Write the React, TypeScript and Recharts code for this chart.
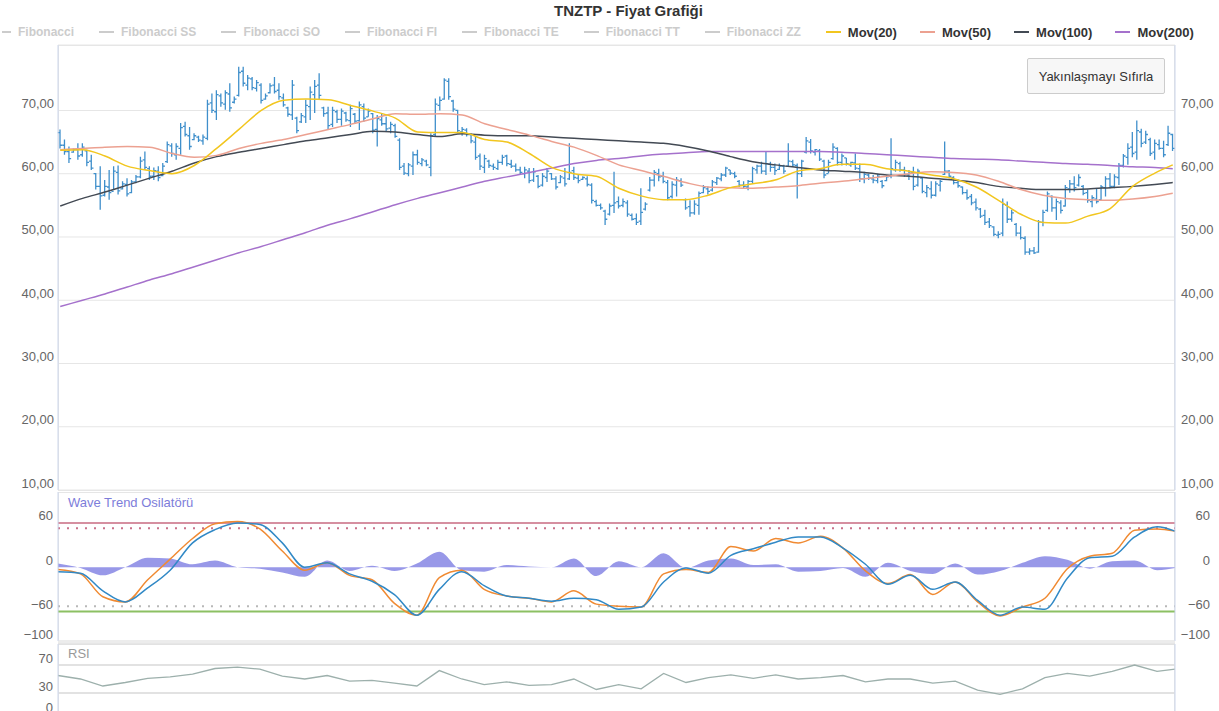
import React from "react";
import {
  ComposedChart,
  Bar,
  Line,
  Area,
  XAxis,
  YAxis,
  CartesianGrid,
  ReferenceLine,
} from "recharts";

// daily bars
const OPEN = [
  66.5, 64.5, 63.5, 63.4, 63.8, 63.0, 63.6, 62.0, 60.0, 58.0,
  56.6, 57.9, 57.2, 60.2, 57.6, 58.3, 57.0, 58.7, 59.5, 62.2,
  60.8, 59.6, 60.4, 59.7, 61.9, 64.4, 63.0, 64.0, 67.5, 66.0,
  65.4, 65.8, 65.2, 65.6, 71.2, 69.8, 72.3, 71.0, 72.6, 71.3,
  72.4, 76.2, 74.0, 75.0, 73.5, 74.0, 71.8, 72.8, 74.0, 73.2,
  72.0, 70.4, 69.3, 68.8, 68.2, 69.0, 70.6, 72.5, 74.0, 70.4,
  69.6, 67.8, 69.8, 68.6, 69.6, 68.4, 69.4, 68.4, 70.6, 69.0,
  69.5, 67.0, 68.5, 67.9, 67.2, 67.6, 65.3, 61.2, 60.0, 61.2,
  63.0, 61.6, 62.0, 61.0, 66.2, 70.8, 71.8, 74.6, 71.5, 70.0,
  66.6, 66.9, 66.2, 65.0, 62.8, 61.0, 62.0, 61.2, 60.8, 61.8,
  62.8, 61.5, 61.2, 60.6, 60.0, 60.4, 59.0, 59.6, 58.2, 59.4,
  60.0, 59.2, 58.6, 59.3, 59.2, 60.5, 59.3, 59.1, 59.2, 58.2,
  55.6, 55.0, 54.1, 53.6, 55.0, 55.6, 55.0, 55.4, 53.4, 52.9,
  52.5, 54.4, 57.4, 59.0, 60.0, 59.6, 58.6, 56.4, 58.2, 58.9,
  55.9, 54.8, 53.8, 55.0, 57.0, 57.6, 57.4, 58.6, 59.2, 59.8,
  60.6, 60.0, 58.8, 58.2, 57.9, 58.8, 60.6, 61.2, 60.4, 61.5,
  61.0, 60.7, 61.2, 61.2, 61.9, 61.3, 60.0, 63.4, 65.0, 63.4,
  63.6, 62.0, 60.0, 62.4, 64.0, 61.8, 62.5, 61.4, 61.7, 60.8,
  59.2, 59.8, 59.2, 58.9, 58.8, 58.9, 59.6, 60.6, 61.6, 60.6,
  59.8, 60.2, 58.2, 59.3, 57.0, 57.6, 56.6, 58.2, 59.9, 60.4,
  59.4, 58.6, 57.9, 57.0, 56.4, 55.5, 54.4, 53.4, 52.4, 51.6,
  50.3, 50.6, 55.0, 52.8, 52.0, 50.6, 49.8, 47.6, 47.8, 47.6,
  52.3, 54.2, 56.4, 54.6, 55.4, 54.9, 57.6, 58.4, 58.2, 58.0,
  57.0, 55.6, 56.0, 55.9, 57.8, 59.2, 58.0, 59.4, 61.3, 62.6,
  64.2, 63.4, 66.6, 65.0, 65.4, 63.4, 64.6, 64.0, 64.6, 66.2,
];
const HIGH = [
  67.0, 65.4, 64.3, 64.0, 64.8, 64.8, 63.8, 63.0, 60.1, 61.2,
  59.0, 60.6, 61.2, 61.3, 58.8, 59.3, 59.0, 59.8, 62.7, 63.5,
  61.2, 61.0, 61.2, 61.7, 65.1, 64.8, 64.8, 68.0, 68.2, 67.4,
  66.4, 66.0, 66.2, 71.7, 72.7, 73.2, 72.7, 73.2, 74.3, 72.2,
  76.9, 76.9, 75.6, 75.3, 74.8, 74.3, 72.7, 74.3, 75.3, 74.3,
  72.7, 70.6, 74.8, 69.0, 69.6, 71.7, 73.8, 74.8, 75.9, 70.6,
  70.6, 70.6, 70.1, 70.3, 69.8, 70.9, 69.6, 71.4, 71.1, 70.3,
  69.6, 69.3, 69.6, 69.0, 68.2, 67.9, 65.6, 61.7, 61.7, 63.5,
  63.8, 62.5, 62.2, 66.4, 71.9, 72.2, 75.1, 75.1, 71.7, 70.1,
  67.4, 67.2, 66.4, 65.9, 63.2, 63.0, 62.2, 61.6, 62.2, 63.0,
  63.0, 62.2, 61.6, 61.1, 61.1, 60.9, 60.9, 59.8, 60.1, 60.9,
  60.1, 59.6, 59.8, 60.9, 64.8, 61.1, 59.8, 59.6, 59.6, 58.5,
  55.9, 55.3, 54.3, 55.3, 60.3, 56.4, 56.1, 55.8, 53.7, 53.7,
  57.7, 55.5, 59.5, 60.6, 60.8, 60.3, 59.0, 58.8, 59.5, 59.3,
  56.1, 55.8, 55.8, 57.2, 58.2, 58.0, 59.0, 59.5, 60.1, 61.1,
  60.6, 60.3, 59.0, 58.8, 59.0, 61.1, 61.4, 61.9, 63.5, 61.9,
  61.6, 61.6, 61.4, 64.8, 62.2, 61.6, 62.2, 65.8, 65.5, 63.9,
  63.9, 62.2, 62.2, 64.8, 64.2, 63.2, 62.5, 61.9, 63.2, 61.6,
  60.3, 60.0, 59.8, 60.0, 59.0, 59.8, 65.6, 62.2, 61.9, 61.1,
  60.6, 61.1, 60.8, 59.5, 58.2, 58.8, 58.8, 59.0, 65.1, 60.6,
  59.6, 59.1, 58.0, 57.5, 56.8, 56.1, 54.6, 54.3, 53.0, 51.7,
  50.9, 56.1, 55.6, 54.3, 52.2, 51.7, 50.1, 48.2, 48.4, 52.7,
  54.3, 57.2, 56.6, 56.1, 55.8, 58.2, 59.0, 59.6, 59.9, 58.2,
  57.5, 56.6, 57.7, 58.2, 59.6, 60.1, 59.9, 61.7, 63.1, 64.8,
  66.6, 68.4, 67.1, 66.8, 65.7, 65.4, 65.4, 65.2, 67.6, 66.3,
];
const LOW = [
  64.0, 63.0, 61.7, 63.3, 62.2, 62.7, 61.2, 60.6, 57.5, 54.3,
  56.4, 55.9, 57.5, 56.7, 57.5, 56.4, 56.9, 58.5, 59.3, 60.6,
  59.0, 59.0, 58.8, 59.6, 61.7, 62.7, 62.2, 63.0, 65.9, 63.8,
  65.3, 65.0, 64.6, 65.3, 69.6, 68.5, 70.6, 70.1, 69.8, 71.1,
  72.2, 73.8, 73.2, 73.2, 73.0, 71.1, 71.7, 72.7, 72.7, 71.7,
  70.6, 69.0, 68.5, 66.4, 68.0, 68.0, 68.5, 69.6, 71.7, 69.0,
  66.9, 67.4, 68.0, 67.6, 68.2, 67.4, 68.0, 66.9, 68.2, 69.0,
  66.4, 64.3, 67.6, 66.7, 66.4, 65.7, 60.6, 59.8, 59.6, 59.8,
  61.4, 61.2, 61.2, 59.6, 65.9, 70.0, 71.7, 71.7, 69.8, 66.4,
  66.0, 65.9, 64.8, 62.2, 60.6, 60.1, 60.9, 60.6, 60.6, 61.4,
  61.2, 60.9, 60.3, 59.8, 59.3, 58.5, 58.7, 57.7, 58.0, 58.7,
  59.0, 57.5, 58.5, 58.0, 59.0, 59.0, 58.5, 59.0, 58.0, 55.3,
  54.8, 54.3, 51.9, 53.4, 53.8, 54.5, 54.7, 53.2, 52.6, 51.9,
  51.9, 54.2, 57.2, 58.0, 58.8, 58.5, 55.8, 56.1, 56.4, 57.9,
  54.3, 53.2, 53.5, 53.5, 56.9, 56.7, 57.2, 58.2, 58.8, 59.5,
  59.8, 59.3, 57.9, 57.7, 57.4, 58.5, 60.0, 60.0, 59.8, 60.3,
  59.8, 60.6, 60.0, 61.1, 61.1, 56.1, 59.5, 63.2, 63.2, 62.9,
  62.0, 59.3, 60.1, 62.2, 61.3, 61.3, 61.3, 61.1, 60.6, 58.7,
  58.5, 59.0, 58.5, 58.5, 57.7, 58.8, 59.3, 60.3, 60.3, 59.5,
  59.0, 57.4, 58.0, 56.9, 56.3, 56.1, 56.4, 57.2, 59.8, 59.3,
  58.3, 57.8, 56.7, 55.9, 55.0, 54.2, 53.0, 51.9, 51.4, 50.1,
  49.8, 50.1, 52.2, 52.4, 50.1, 49.6, 47.2, 47.2, 47.3, 47.5,
  51.7, 54.0, 54.0, 52.7, 53.7, 54.8, 57.0, 57.2, 58.0, 56.6,
  55.4, 54.7, 55.3, 55.8, 56.4, 57.7, 57.7, 58.2, 61.0, 61.4,
  62.6, 62.2, 64.2, 64.7, 62.8, 62.2, 63.8, 62.6, 64.4, 63.6,
];
const CLOSE = [
  64.5, 63.5, 62.4, 63.8, 62.8, 64.2, 61.8, 60.9, 58.0, 56.5,
  58.0, 57.0, 60.4, 57.3, 58.4, 56.8, 58.7, 59.5, 62.0, 61.0,
  59.6, 60.5, 59.4, 61.2, 64.6, 63.2, 64.3, 67.3, 66.2, 64.3,
  66.0, 65.3, 65.8, 71.0, 70.0, 72.5, 71.2, 72.8, 70.4, 71.8,
  76.0, 74.3, 75.1, 73.6, 74.4, 71.6, 72.3, 73.9, 73.0, 72.2,
  70.9, 69.4, 74.0, 66.8, 69.2, 70.8, 72.9, 73.8, 72.4, 69.5,
  67.6, 70.0, 68.6, 69.9, 68.5, 70.3, 68.3, 70.9, 68.8, 69.9,
  66.9, 68.7, 67.9, 67.1, 67.8, 65.9, 61.0, 60.1, 61.4, 63.0,
  61.8, 62.2, 61.4, 66.0, 71.0, 71.6, 74.8, 72.2, 70.2, 66.8,
  67.0, 66.2, 65.2, 62.6, 61.2, 62.4, 61.3, 61.0, 61.8, 62.6,
  61.6, 61.2, 60.6, 60.2, 60.6, 58.9, 60.3, 58.0, 59.6, 60.4,
  59.2, 57.9, 59.5, 58.4, 60.2, 59.4, 58.9, 59.4, 58.3, 55.8,
  55.0, 54.6, 52.8, 54.9, 55.4, 54.9, 55.6, 53.6, 52.8, 52.3,
  53.9, 55.2, 59.0, 60.2, 59.5, 58.8, 56.2, 58.3, 59.0, 58.2,
  54.6, 53.8, 55.2, 56.9, 57.8, 57.2, 58.7, 59.3, 59.8, 60.9,
  60.1, 59.6, 58.2, 58.0, 58.8, 60.8, 61.2, 60.4, 61.6, 61.0,
  60.5, 61.2, 60.4, 62.0, 61.4, 60.0, 62.0, 65.2, 63.6, 63.8,
  62.3, 59.8, 61.8, 64.2, 61.8, 62.8, 61.6, 61.8, 60.9, 59.2,
  59.9, 59.3, 59.0, 59.6, 58.1, 59.5, 60.8, 61.8, 60.6, 59.9,
  60.3, 58.0, 60.4, 57.2, 57.8, 56.6, 58.4, 58.8, 60.4, 59.6,
  58.6, 58.1, 57.0, 56.2, 55.4, 54.6, 53.3, 52.3, 51.8, 50.4,
  50.4, 55.2, 52.8, 53.8, 50.6, 49.9, 47.6, 47.8, 47.5, 52.4,
  53.9, 56.8, 54.6, 55.6, 54.2, 57.8, 58.4, 57.8, 59.4, 56.9,
  55.8, 56.2, 55.6, 57.9, 59.2, 58.0, 59.5, 61.3, 62.8, 64.0,
  63.2, 66.8, 64.8, 66.2, 63.2, 64.8, 64.0, 63.0, 66.4, 64.0,
];

// indicator lines, read every 5th bar (last value = last bar)
const MOV20 = [
  63.7, 63.8, 62.8, 61.2, 60.5, 60.0, 61.3, 64.0, 67.0, 70.0,
  71.6, 71.8, 71.7, 70.8, 69.9, 68.8, 66.6, 66.5, 66.5, 65.4,
  65.0, 63.2, 61.0, 60.0, 59.6, 57.7, 56.5, 55.9, 55.9, 56.6,
  57.8, 58.4, 59.0, 60.4, 60.8, 61.5, 61.5, 60.8, 60.4, 59.8,
  59.2, 57.9, 55.8, 53.6, 52.3, 52.2, 53.3, 54.5, 58.0, 60.1,
  61.4,
];
const MOV50 = [
  63.8, 64.0, 64.2, 64.3, 64.2, 63.2, 62.6, 62.9, 64.0, 64.8,
  65.4, 66.2, 67.0, 67.8, 68.7, 69.5, 69.4, 69.5, 69.3, 67.9,
  67.0, 66.1, 65.1, 64.2, 62.9, 61.4, 60.5, 59.6, 58.6, 57.9,
  57.8, 57.7, 57.9, 58.1, 58.5, 58.8, 59.2, 59.6, 60.0, 60.3,
  60.2, 59.8, 58.8, 57.5, 56.6, 56.1, 55.9, 55.8, 56.0, 56.4,
  56.9,
];
const MOV100 = [
  54.9, 56.1, 57.1, 58.2, 59.3, 60.4, 61.7, 62.7, 63.4, 64.0,
  64.6, 65.2, 65.7, 66.2, 66.7, 66.6, 66.2, 65.9, 66.3, 66.1,
  66.0, 66.0, 65.8, 65.6, 65.4, 65.2, 65.0, 64.8, 64.3, 63.6,
  62.7, 61.9, 61.4, 61.0, 60.6, 60.4, 60.2, 59.8, 59.6, 59.3,
  59.0, 58.6, 58.0, 57.7, 57.5, 57.5, 57.6, 57.8, 58.0, 58.3,
  58.6,
];
const MOV200 = [
  39.0, 40.0, 41.0, 42.1, 43.2, 44.2, 45.3, 46.4, 47.5, 48.5,
  49.6, 50.7, 51.9, 52.9, 54.0, 55.1, 56.1, 57.0, 57.9, 58.8,
  59.5, 60.2, 60.9, 61.6, 62.1, 62.4, 62.8, 63.1, 63.3, 63.5,
  63.5, 63.5, 63.5, 63.5, 63.5, 63.4, 63.2, 63.0, 62.8, 62.6,
  62.4, 62.3, 62.2, 62.0, 61.8, 61.6, 61.5, 61.3, 61.1, 61.0,
  60.8,
];
const WT1 = [
  -3, -9, -40, -47, -17, 11, 39, 59, 62, 52,
  22, -4, 6, -11, -17, -49, -65, -14, -4, -30,
  -39, -42, -47, -32, -50, -53, -54, -9, -3, -7,
  28, 22, 39, 33, 42, 26, -5, -22, -10, -37,
  -20, -47, -66, -54, -42, -2, 15, 19, 50, 52,
  49,
];
const WT2 = [
  -6, -8, -32, -47, -28, -4, 33, 51, 60, 58,
  33, 0, 6, -9, -19, -37, -65, -30, -6, -25,
  -39, -42, -46, -42, -44, -57, -54, -20, -1, -8,
  16, 25, 34, 41, 41, 26, 4, -23, -11, -30,
  -20, -45, -65, -54, -57, -15, 13, 15, 41, 55,
  49,
];
const WT_HIST = [
  5, -1, -11, 0, 13, 12, 4, 9, 0, -2,
  -7, -13, 9, -5, 2, -5, 5, 21, -4, -6,
  3, 1, 0, 12, -12, 8, 0, 19, -1, 9,
  12, 3, 4, -6, -5, -1, -13, 6, -5, -9,
  5, -10, -5, 6, 15, 10, -2, 8, 9, -4,
  -1,
];
const RSI = [
  55, 50, 40, 45, 51, 53, 57, 65, 67, 64,
  54, 50, 55, 47, 48, 44, 40, 62, 50, 42,
  46, 41, 42, 50, 35, 42, 36, 58, 45, 52,
  56, 51, 56, 50, 52, 55, 46, 50, 50, 44,
  47, 34, 28, 36, 52, 58, 54, 61, 70, 61,
  64,
];

const PRICE_TICKS = [10, 20, 30, 40, 50, 60, 70];
const WT_TICKS = [-100, -60, 0, 60];
const RSI_TICKS = [0, 30, 70];

const LEGEND = [
  { name: "Fibonacci", color: "#cccccc", on: false },
  { name: "Fibonacci SS", color: "#cccccc", on: false },
  { name: "Fibonacci SO", color: "#cccccc", on: false },
  { name: "Fibonacci FI", color: "#cccccc", on: false },
  { name: "Fibonacci TE", color: "#cccccc", on: false },
  { name: "Fibonacci TT", color: "#cccccc", on: false },
  { name: "Fibonacci ZZ", color: "#cccccc", on: false },
  { name: "Mov(20)", color: "#f2c61f", on: true },
  { name: "Mov(50)", color: "#eca191", on: true },
  { name: "Mov(100)", color: "#434a54", on: true },
  { name: "Mov(200)", color: "#a571cc", on: true },
];

const BAR_COLOR = "#3f8fcb";
const FONT = "'Liberation Sans', Arial, sans-serif";
const STEP = 5;
const LAST = CLOSE.length - 1;

const sampled = (arr: number[], i: number) => {
  if (i === LAST) return arr[arr.length - 1];
  return i % STEP === 0 ? arr[i / STEP] : null;
};

const rows = CLOSE.map((c, i) => ({
  i,
  hl: [LOW[i], HIGH[i]],
  o: OPEN[i],
  h: HIGH[i],
  l: LOW[i],
  c,
  m20: sampled(MOV20, i),
  m50: sampled(MOV50, i),
  m100: sampled(MOV100, i),
  m200: sampled(MOV200, i),
  wt1: sampled(WT1, i),
  wt2: sampled(WT2, i),
  hist: sampled(WT_HIST, i),
  rsi: sampled(RSI, i),
}));

const fmtPrice = (v: number) => v.toFixed(2).replace(".", ",");
const fmtInt = (v: number) => String(v).replace("-", "\u2212");

function OhlcShape(props: any) {
  const { x, y, width, height, payload } = props;
  if (x == null || y == null || !payload) return null;
  const top = Math.min(y, y + height);
  const bot = Math.max(y, y + height);
  const span = payload.h - payload.l || 1;
  const py = (v: number) => top + ((payload.h - v) / span) * (bot - top);
  const cx = x + width / 2;
  const d = `M${cx},${top}V${bot}M${cx - 2.2},${py(payload.o)}H${cx}M${cx},${py(payload.c)}H${cx + 2.2}`;
  return <path d={d} stroke={BAR_COLOR} strokeWidth={1.3} fill="none" />;
}

const makeTick = (fmt: (v: number) => string, anchor: "start" | "end", shift = 0) =>
  function Tick(props: any) {
    const { x, y, payload } = props;
    return (
      <text
        x={x + shift}
        y={y - 7}
        textAnchor={anchor}
        dominantBaseline="central"
        fontSize={13}
        fill="#666666"
        fontFamily={FONT}
      >
        {fmt(payload.value)}
      </text>
    );
  };

const W = 1219;
const PLOT_L = 58;
const PLOT_R = 1175;

export default function App() {
  const panel = (top: number, height: number): React.CSSProperties => ({
    position: "absolute",
    left: PLOT_L,
    top,
    width: PLOT_R - PLOT_L,
    height,
    boxSizing: "border-box",
    border: "1px solid #e6e6e6",
  });

  return (
    <div
      style={{
        position: "absolute",
        left: 0,
        top: 0,
        width: W,
        height: 711,
        overflow: "hidden",
        background: "#ffffff",
        fontFamily: FONT,
      }}
    >
      <div style={panel(45, 446)} />
      <div style={panel(492, 149)} />
      <div style={{ position: "absolute", left: PLOT_L, top: 640, width: PLOT_R - PLOT_L, height: 3, background: "#ececec" }} />
      <div style={panel(643, 80)} />

      <div
        style={{
          position: "absolute",
          left: 554,
          top: 2,
          fontSize: 15,
          fontWeight: "bold",
          color: "#333333",
          whiteSpace: "nowrap",
        }}
      >
        TNZTP - Fiyat Grafiği
      </div>

      <div
        style={{
          position: "absolute",
          left: 2,
          top: 24,
          display: "flex",
          alignItems: "center",
          whiteSpace: "nowrap",
          fontWeight: "bold",
        }}
      >
        {LEGEND.map((it, k) => (
          <div key={it.name} style={{ display: "flex", alignItems: "center", marginRight: it.on ? 23 : 25, height: 16 }}>
            <span
              style={{
                display: "inline-block",
                width: k === 0 ? 9 : 15,
                height: 2,
                background: it.color,
                marginRight: 7,
              }}
            />
            <span style={{ color: it.on ? "#333333" : "#cccccc", fontSize: it.on ? 13 : 12 }}>{it.name}</span>
          </div>
        ))}
      </div>

      <div style={{ position: "absolute", left: 0, top: 0 }}>
        <ComposedChart width={W} height={490} data={rows} margin={{ top: 45, right: 0, bottom: 0, left: 0 }} barCategoryGap={0}>
          <XAxis dataKey="i" hide />
          <YAxis
            yAxisId="l"
            width={PLOT_L}
            domain={[10, 80.35]}
            allowDataOverflow
            ticks={PRICE_TICKS}
            interval={0}
            tickSize={0}
            tickMargin={4}
            axisLine={{ stroke: "#ccd6eb" }}
            tick={makeTick(fmtPrice, "end")}
          />
          <YAxis
            yAxisId="r"
            orientation="right"
            width={W - PLOT_R}
            domain={[10, 80.35]}
            allowDataOverflow
            ticks={PRICE_TICKS}
            interval={0}
            tickSize={0}
            tickMargin={6}
            axisLine={{ stroke: "#ccd6eb" }}
            tick={makeTick(fmtPrice, "start")}
          />
          <CartesianGrid yAxisId="l" vertical={false} stroke="#e6e6e6" />
          <Bar yAxisId="l" dataKey="hl" barSize={4} shape={OhlcShape} isAnimationActive={false} />
          <Line yAxisId="l" dataKey="m200" type="monotone" stroke="#a571cc" strokeWidth={1.5} dot={false} connectNulls isAnimationActive={false} />
          <Line yAxisId="l" dataKey="m100" type="monotone" stroke="#434a54" strokeWidth={1.5} dot={false} connectNulls isAnimationActive={false} />
          <Line yAxisId="l" dataKey="m50" type="monotone" stroke="#eca191" strokeWidth={1.5} dot={false} connectNulls isAnimationActive={false} />
          <Line yAxisId="l" dataKey="m20" type="monotone" stroke="#f2c61f" strokeWidth={1.5} dot={false} connectNulls isAnimationActive={false} />
        </ComposedChart>
      </div>

      <div style={{ position: "absolute", left: 0, top: 492 }}>
        <ComposedChart width={W} height={149} data={rows} margin={{ top: 0, right: 0, bottom: 0, left: 0 }}>
          <XAxis dataKey="i" hide />
          <YAxis
            yAxisId="l"
            width={PLOT_L}
            domain={[-100, 102]}
            allowDataOverflow
            ticks={WT_TICKS}
            interval={0}
            tickSize={0}
            tickMargin={5}
            axisLine={{ stroke: "#ccd6eb" }}
            tick={makeTick(fmtInt, "end")}
          />
          <YAxis
            yAxisId="r"
            orientation="right"
            width={W - PLOT_R}
            domain={[-100, 102]}
            allowDataOverflow
            ticks={WT_TICKS}
            interval={0}
            tickSize={0}
            tickMargin={6}
            axisLine={{ stroke: "#ccd6eb" }}
            tick={makeTick(fmtInt, "end", 29)}
          />
          <Area
            yAxisId="l"
            dataKey="hist"
            type="monotone"
            baseValue={0}
            connectNulls
            stroke="none"
            fill="#8686e4"
            fillOpacity={0.85}
            isAnimationActive={false}
          />
          <ReferenceLine yAxisId="l" y={60} stroke="#d68fa0" strokeWidth={2} />
          <ReferenceLine yAxisId="l" y={53} stroke="#c9718a" strokeWidth={2} strokeDasharray="2 7" />
          <ReferenceLine yAxisId="l" y={-53} stroke="#b8b8b8" strokeWidth={2} strokeDasharray="2 7" />
          <ReferenceLine yAxisId="l" y={-60} stroke="#8cc063" strokeWidth={2} />
          <Line yAxisId="l" dataKey="wt1" type="monotone" stroke="#f08a32" strokeWidth={1.5} dot={false} connectNulls isAnimationActive={false} />
          <Line yAxisId="l" dataKey="wt2" type="monotone" stroke="#3189c6" strokeWidth={1.5} dot={false} connectNulls isAnimationActive={false} />
        </ComposedChart>
      </div>

      <div style={{ position: "absolute", left: 0, top: 644 }}>
        <ComposedChart width={W} height={70} data={rows} margin={{ top: 0, right: 0, bottom: 0, left: 0 }}>
          <XAxis dataKey="i" hide />
          <YAxis
            yAxisId="l"
            width={PLOT_L}
            domain={[0, 100]}
            ticks={RSI_TICKS}
            interval={0}
            tickSize={0}
            tickMargin={5}
            axisLine={{ stroke: "#ccd6eb" }}
            tick={makeTick(fmtInt, "end")}
          />
          <YAxis
            yAxisId="r"
            orientation="right"
            width={W - PLOT_R}
            domain={[0, 100]}
            ticks={RSI_TICKS}
            interval={0}
            tickSize={0}
            tickMargin={6}
            axisLine={{ stroke: "#ccd6eb" }}
            tick={makeTick(fmtInt, "end", 29)}
          />
          <CartesianGrid yAxisId="l" vertical={false} stroke="#e2e2e2" strokeWidth={2} />
          <Line yAxisId="l" dataKey="rsi" type="linear" stroke="#9db0ac" strokeWidth={1.3} dot={false} connectNulls isAnimationActive={false} />
        </ComposedChart>
      </div>

      <div style={{ position: "absolute", left: 68, top: 495, fontSize: 13, color: "#7d7dda" }}>Wave Trend Osilatörü</div>
      <div style={{ position: "absolute", left: 68, top: 646, fontSize: 13, color: "#999999" }}>RSI</div>

      <div
        style={{
          position: "absolute",
          left: 1027,
          top: 58,
          width: 138,
          height: 36,
          boxSizing: "border-box",
          background: "#f7f7f7",
          border: "1px solid #cccccc",
          borderRadius: 2,
          display: "flex",
          alignItems: "center",
          justifyContent: "center",
          fontSize: 13,
          color: "#333333",
        }}
      >
        Yakınlaşmayı Sıfırla
      </div>
    </div>
  );
}
